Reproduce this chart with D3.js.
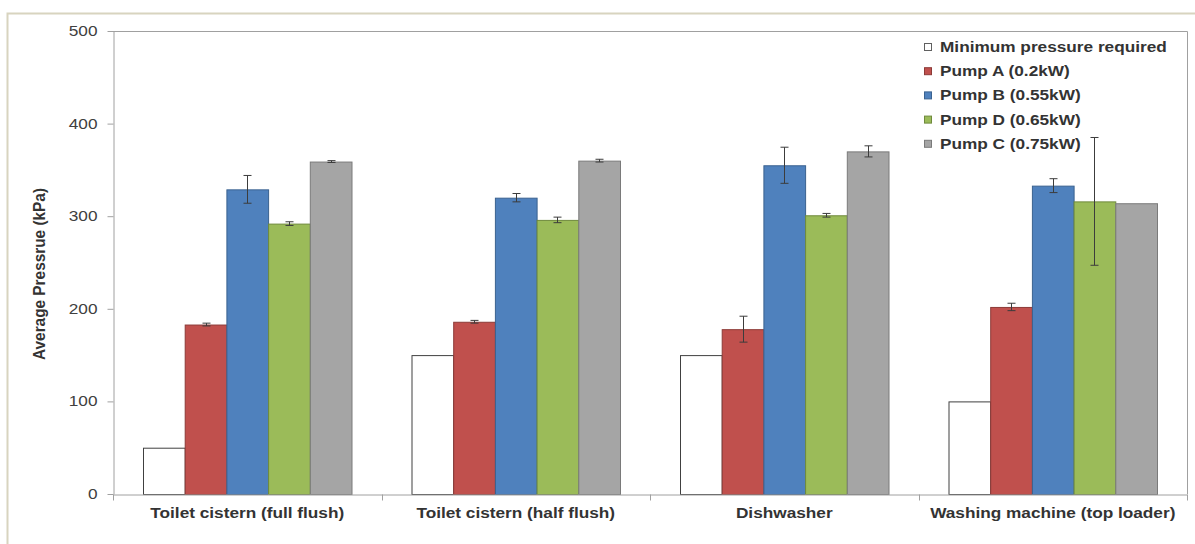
<!DOCTYPE html>
<html>
<head>
<meta charset="utf-8">
<script src="https://cdn.jsdelivr.net/npm/d3@7"></script>
<style>
  html, body { margin: 0; padding: 0; background: #ffffff; }
  svg { display: block; }
  text { font-family: "Liberation Sans", Arial, sans-serif; }
</style>
</head>
<body>
<svg id="chart" width="1195" height="544"></svg>
<script>
// Fixture categories and series
const categories = [
  "Toilet cistern (full flush)",
  "Toilet cistern (half flush)",
  "Dishwasher",
  "Washing machine (top loader)"
];
const seriesNames = [
  "Minimum pressure required",
  "Pump A (0.2kW)",
  "Pump B (0.55kW)",
  "Pump D (0.65kW)",
  "Pump C (0.75kW)"
];
// Average pressure (kPa) per category
const minimumRequired = [50, 150, 150, 100];
const pumpA = [183, 186, 178, 202];
const pumpB = [329, 320, 355, 333];
const pumpD = [292, 296, 301, 316];
const pumpC = [359, 360, 370, 314];
// Error bar half-widths (kPa); 0 = no error bar drawn
const pumpAErr = [1.5, 1.5, 14, 4];
const pumpBErr = [15, 4.5, 19.5, 7.5];
const pumpDErr = [2, 3, 2, 69];
const pumpCErr = [1, 1.5, 6, 0];
const yTicks = [0, 100, 200, 300, 400, 500];

const seriesValues = [minimumRequired, pumpA, pumpB, pumpD, pumpC];
const seriesErrors = [null, pumpAErr, pumpBErr, pumpDErr, pumpCErr];
const fills = ["#ffffff", "#c0504d", "#4f81bd", "#9bbb59", "#a5a5a5"];
const strokes = ["#404040", "#8c3a37", "#3a6290", "#6f8a3c", "#7a7a7a"];

// Text is drawn slightly wide
const TEXT_STRETCH = 1.23;
function stretch(sel) {
  sel.each(function () {
    const w = this.getComputedTextLength();
    d3.select(this).attr("textLength", w * TEXT_STRETCH).attr("lengthAdjust", "spacingAndGlyphs");
  });
}

const svg = d3.select("#chart");
const plot = { left: 113, right: 1187, top: 31, bottom: 494 };

// Outer frame
svg.append("rect")
  .attr("x", 7.5).attr("y", 13.5)
  .attr("width", 1220).attr("height", 600)
  .attr("fill", "#ffffff").attr("stroke", "#d8d4bf").attr("stroke-width", 2);

const x0 = d3.scaleBand().domain(categories).range([plot.left, plot.right]).padding(0);
const groupPad = 30;
const x1 = d3.scaleBand().domain(seriesNames).range([groupPad, x0.bandwidth() - groupPad]).padding(0);
const y = d3.scaleLinear().domain([0, 500]).range([plot.bottom, plot.top]);

// Plot frame (top and right edges)
svg.append("path")
  .attr("d", `M${plot.left},${plot.top + 0.5}H${plot.right + 0.5}V${plot.bottom}`)
  .attr("fill", "none").attr("stroke", "#a0a0a0").attr("stroke-width", 1);

// Bars
const groups = svg.append("g").selectAll("g")
  .data(categories)
  .join("g")
  .attr("transform", d => `translate(${x0(d)},0)`);

groups.selectAll("rect")
  .data((c, ci) => seriesNames.map((s, si) => ({ s, si, v: seriesValues[si][ci] })))
  .join("rect")
  .attr("x", d => x1(d.s) + 0.5)
  .attr("y", d => y(d.v) + 0.5)
  .attr("width", x1.bandwidth())
  .attr("height", d => y(0) - y(d.v))
  .attr("fill", d => fills[d.si])
  .attr("stroke", d => strokes[d.si])
  .attr("stroke-width", 1);

// Error bars
const errData = [];
categories.forEach((c, ci) => {
  seriesNames.forEach((s, si) => {
    const e = seriesErrors[si];
    if (e && e[ci] > 0) errData.push({ c, s, v: seriesValues[si][ci], e: e[ci] });
  });
});
const err = svg.append("g").attr("stroke", "#3c3c3c").attr("stroke-width", 1).attr("fill", "none");
err.selectAll("path")
  .data(errData)
  .join("path")
  .attr("d", d => {
    const cx = Math.round(x0(d.c) + x1(d.s) + x1.bandwidth() / 2) + 0.5;
    const yt = y(d.v + d.e), yb = y(d.v - d.e);
    return `M${cx},${yt}V${yb}M${cx - 4},${yt}H${cx + 4}M${cx - 4},${yb}H${cx + 4}`;
  });

// Y axis
const yAxis = svg.append("g")
  .attr("transform", `translate(${plot.left + 0.5},0)`)
  .call(d3.axisLeft(y).tickValues(yTicks).tickSize(6).tickPadding(10).tickSizeOuter(0));
yAxis.select(".domain").attr("stroke", "#a0a0a0");
yAxis.selectAll(".tick line").attr("stroke", "#a0a0a0");
yAxis.selectAll(".tick text")
  .attr("font-size", 14).attr("fill", "#404040")
  .attr("font-family", "Liberation Sans, Arial, sans-serif")
  .call(stretch);

// X axis
const xAxis = svg.append("g")
  .attr("transform", `translate(0,${plot.bottom + 0.5})`)
  .call(d3.axisBottom(x0).tickSize(0).tickPadding(14).tickSizeOuter(0));
xAxis.select(".domain").attr("stroke", "#a0a0a0");
xAxis.selectAll(".tick text")
  .attr("font-size", 14).attr("font-weight", "bold").attr("fill", "#333333")
  .attr("font-family", "Liberation Sans, Arial, sans-serif")
  .call(stretch);
// Category boundary ticks
const bounds = categories.map(c => x0(c)).concat([plot.right]);
xAxis.append("g").selectAll("line")
  .data(bounds)
  .join("line")
  .attr("x1", d => Math.round(d) + 0.5).attr("x2", d => Math.round(d) + 0.5)
  .attr("y1", 0).attr("y2", 6)
  .attr("stroke", "#a0a0a0");

// Y axis title (glyphs widened to match the horizontal stretch of other text)
svg.append("text")
  .attr("transform", `translate(45,274) scale(${TEXT_STRETCH},1) rotate(-90)`)
  .attr("text-anchor", "middle")
  .attr("font-size", 13).attr("font-weight", "bold").attr("fill", "#333333")
  .text("Average Pressrue (kPa)")
  .attr("textLength", 172).attr("lengthAdjust", "spacingAndGlyphs");

// Legend
const legend = svg.append("g").attr("transform", "translate(924,47)");
const items = legend.selectAll("g")
  .data(seriesNames)
  .join("g")
  .attr("transform", (d, i) => `translate(0,${i * 24.2})`);
items.append("rect")
  .attr("x", 0.5).attr("y", -3.5).attr("width", 7).attr("height", 7)
  .attr("fill", (d, i) => fills[i])
  .attr("stroke", (d, i) => i === 0 ? "#606060" : strokes[i]);
items.append("text")
  .attr("x", 16).attr("dy", "0.36em")
  .attr("font-size", 14).attr("font-weight", "bold").attr("fill", "#333333")
  .text(d => d)
  .call(stretch);
</script>
</body>
</html>
